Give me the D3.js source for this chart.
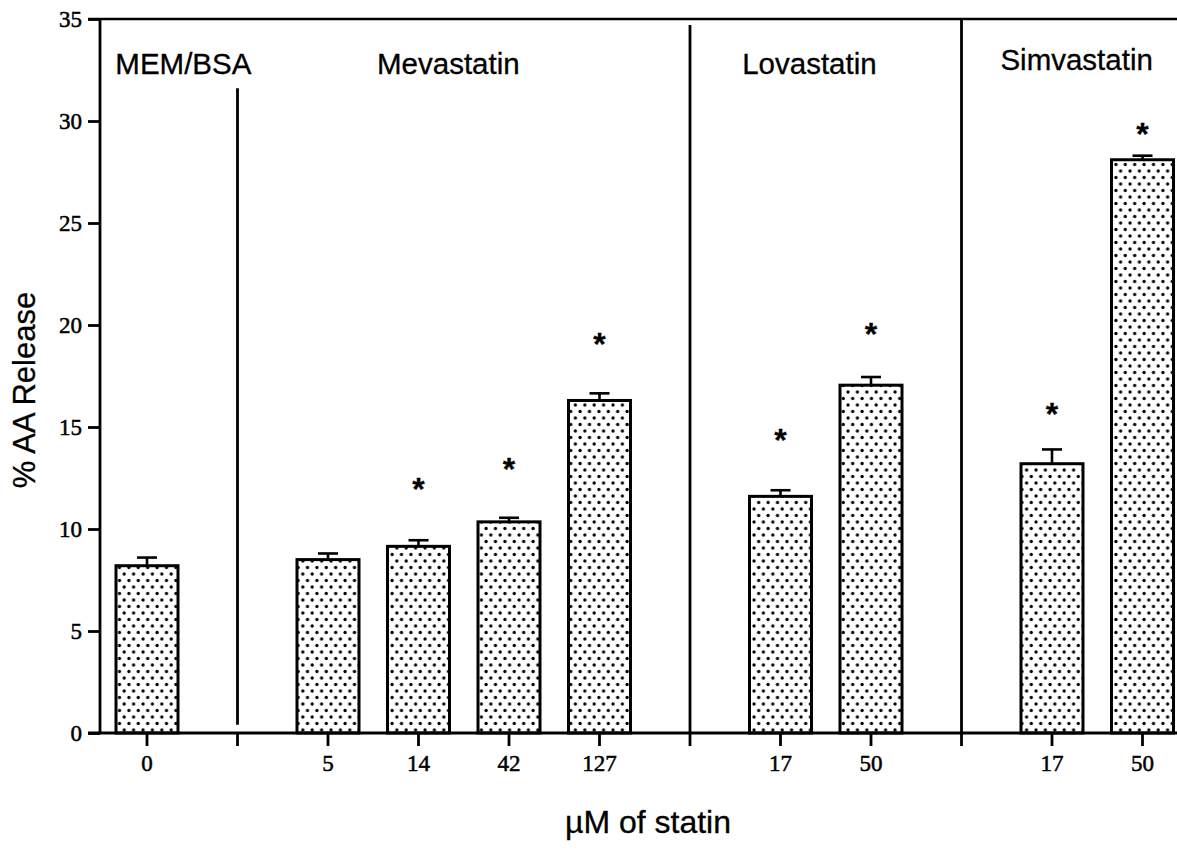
<!DOCTYPE html>
<html>
<head>
<meta charset="utf-8">
<script src="https://cdn.jsdelivr.net/npm/d3@7.9.0/dist/d3.min.js"></script>
<style>
  body { margin: 0; background: #fff; }
  svg { display: block; }
  .lbl { font-family: "Liberation Sans", Arial, sans-serif; fill: #000; stroke: #000; stroke-width: 0.3px; }
</style>
</head>
<body>
<svg id="chart" width="1177" height="854"></svg>
<script>
// --- data ---
const slots      = ['c0', 'g1', 'm5', 'm14', 'm42', 'm127', 'g2', 'l17', 'l50', 'g3', 's17', 's50'];
const tickLabels = ['0', '', '5', '14', '42', '127', '', '17', '50', '', '17', '50'];

const barSlots  = ['c0', 'm5', 'm14', 'm42', 'm127', 'l17', 'l50', 's17', 's50'];
const barValues = [8.2, 8.5, 9.15, 10.35, 16.3, 11.6, 17.05, 13.2, 28.1];
const errTops   = [8.6, 8.8, 9.45, 10.55, 16.65, 11.9, 17.45, 13.9, 28.3];

const starSlots  = ['m14', 'm42', 'm127', 'l17', 'l50', 's17', 's50'];
const starValues = [12.3, 13.3, 19.4, 14.7, 19.9, 16.0, 29.7];

const dividerSlots   = ['g1', 'g2', 'g3'];
const dividerTops    = [31.6, 34.7, 35];
const dividerBottoms = [0.4, 0, 0];

const groupNames  = ['MEM/BSA', 'Mevastatin', 'Lovastatin', 'Simvastatin'];
const groupSlots  = ['c0', 'm14', 'l17', 's17'];
const groupShift  = [-0.35, 0.33, 0.32, -0.57];   // fraction of a slot
const groupAnchor = ['start', 'middle', 'middle', 'start'];
const groupLevel  = [32.3, 32.3, 32.3, 32.5];

const yTicks = [0, 5, 10, 15, 20, 25, 30, 35];

// --- scales ---
const svg = d3.select('#chart');
const x = d3.scaleBand().domain(slots).range([101.75, 1187.75]).padding(0);
const y = d3.scaleLinear().domain([0, 35]).range([733, 19]);
const bw = x.bandwidth() * 0.685;
const cx = s => x(s) + x.bandwidth() / 2;

// dotted fill
const defs = svg.append('defs');
const pat = defs.append('pattern')
  .attr('id', 'dots').attr('patternUnits', 'userSpaceOnUse')
  .attr('width', 9.4).attr('height', 13);
pat.append('circle').attr('cx', 2).attr('cy', 2).attr('r', 1.65).attr('fill', '#000');
pat.append('circle').attr('cx', 6.7).attr('cy', 8.5).attr('r', 1.65).attr('fill', '#000');

// bars
const bars = barSlots.map((s, i) => ({ s, v: barValues[i], e: errTops[i] }));
svg.append('g').selectAll('rect')
  .data(bars).join('rect')
  .attr('x', d => cx(d.s) - bw / 2)
  .attr('y', d => y(d.v))
  .attr('width', bw)
  .attr('height', d => y(0) - y(d.v))
  .attr('fill', 'url(#dots)')
  .attr('stroke', '#000').attr('stroke-width', 3);

// error bars
const eb = svg.append('g').attr('stroke', '#000').attr('stroke-width', 2.6);
eb.selectAll('line.v').data(bars).join('line').attr('class', 'v')
  .attr('x1', d => cx(d.s)).attr('x2', d => cx(d.s))
  .attr('y1', d => y(d.v)).attr('y2', d => y(d.e));
eb.selectAll('line.c').data(bars).join('line').attr('class', 'c')
  .attr('x1', d => cx(d.s) - 10).attr('x2', d => cx(d.s) + 10)
  .attr('y1', d => y(d.e)).attr('y2', d => y(d.e));

// asterisks
svg.append('g').selectAll('text')
  .data(starSlots.map((s, i) => ({ s, v: starValues[i] }))).join('text')
  .attr('class', 'lbl')
  .attr('x', d => cx(d.s))
  .attr('y', d => y(d.v) + 18)
  .attr('text-anchor', 'middle')
  .attr('font-size', 32).attr('font-weight', 'bold')
  .text('*');

// dividers
svg.append('g').selectAll('line')
  .data(dividerSlots.map((s, i) => ({ s, t: dividerTops[i], b: dividerBottoms[i] }))).join('line')
  .attr('x1', d => cx(d.s)).attr('x2', d => cx(d.s))
  .attr('y1', d => y(d.t)).attr('y2', d => y(d.b))
  .attr('stroke', '#000').attr('stroke-width', 2.8);

// frame lines
svg.append('line').attr('x1', 88).attr('x2', 1177).attr('y1', y(35)).attr('y2', y(35))
  .attr('stroke', '#000').attr('stroke-width', 2.6);
svg.append('line').attr('x1', 88).attr('x2', 1177).attr('y1', y(0)).attr('y2', y(0))
  .attr('stroke', '#000').attr('stroke-width', 2.8);
svg.append('line').attr('x1', 100).attr('x2', 100).attr('y1', y(35)).attr('y2', y(0))
  .attr('stroke', '#000').attr('stroke-width', 2.8);

// axes
function styleAxis(g) {
  g.select('.domain').remove();
  g.selectAll('.tick line').attr('stroke-width', 2.8);
  g.attr('font-family', '"Liberation Serif", "Times New Roman", serif').attr('font-size', 23);
  g.selectAll('.tick text').attr('fill', '#000').attr('stroke', '#000').attr('stroke-width', 0.5);
}

svg.append('g').attr('transform', 'translate(100,0)')
  .call(d3.axisLeft(y).tickValues(yTicks).tickSize(12).tickPadding(6))
  .call(styleAxis);

svg.append('g').attr('transform', `translate(0,${y(0)})`)
  .call(d3.axisBottom(x).tickSize(13).tickPadding(9).tickFormat((d, i) => tickLabels[i]))
  .call(styleAxis);

// group labels
svg.append('g').selectAll('text')
  .data(groupNames).join('text')
  .attr('class', 'lbl')
  .attr('x', (d, i) => cx(groupSlots[i]) + groupShift[i] * x.bandwidth())
  .attr('y', (d, i) => y(groupLevel[i]))
  .attr('text-anchor', (d, i) => groupAnchor[i])
  .attr('font-size', 29.5)
  .text(d => d);

// axis titles
svg.append('text').attr('class', 'lbl')
  .attr('transform', 'translate(35,390) rotate(-90)')
  .attr('text-anchor', 'middle').attr('font-size', 31)
  .text('% AA Release');

svg.append('text').attr('class', 'lbl')
  .attr('x', 648).attr('y', 833)
  .attr('text-anchor', 'middle').attr('font-size', 32)
  .text('µM of statin');
</script>
</body>
</html>
